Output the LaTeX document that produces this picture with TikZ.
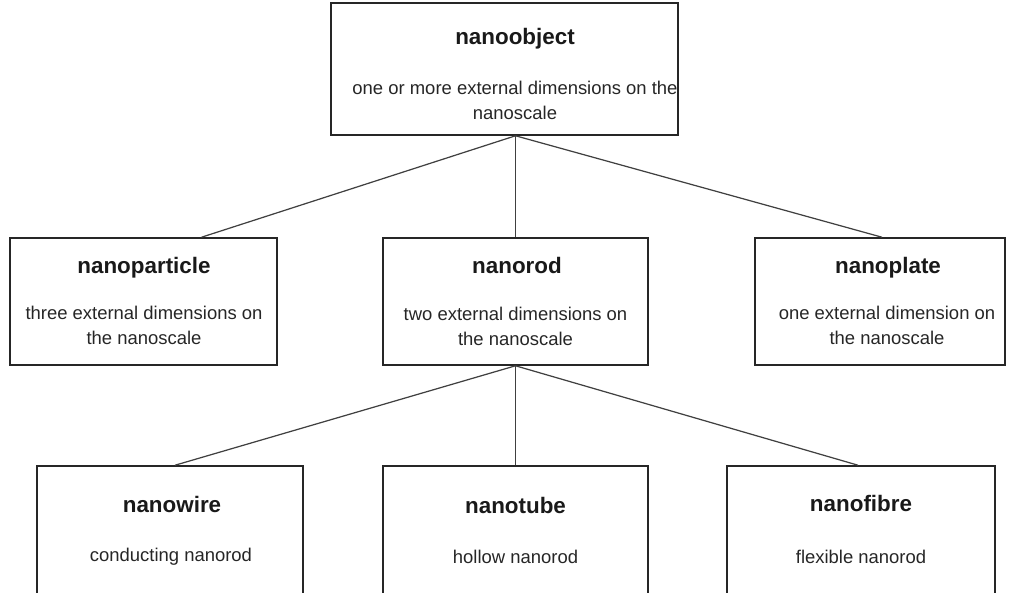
\documentclass[tikz,border=0pt]{standalone}
\usepackage{fontspec}
\setmainfont{Liberation Sans}
\usetikzlibrary{calc}

\begin{document}
\begin{tikzpicture}[x=0.02cm, y=-0.02cm,
    box/.style={draw=black!85, line width=0.9pt, inner sep=0pt},
    title/.style={font=\fontsize{12.75}{15}\selectfont\bfseries, text=black!90, text depth=0pt, inner sep=0pt},
    desc/.style={font=\fontsize{10.5}{14.2}\selectfont, text=black!85, align=center, inner sep=0pt},
    link/.style={draw=black!75, line width=0.7pt}]
    \useasboundingbox (0,0) rectangle (1010,592);
    % boxes
    \node[box, minimum width=6.94cm, minimum height=2.64cm] (obj) at (504.5,69) {};
    \node[box, minimum width=5.34cm, minimum height=2.54cm] (part) at (143.5,301.5) {};
    \node[box, minimum width=5.30cm, minimum height=2.54cm] (rod) at (515.5,301.5) {};
    \node[box, minimum width=5.00cm, minimum height=2.54cm] (plate) at (880,301.5) {};
    \node[box, minimum width=5.32cm, minimum height=2.64cm] (wire) at (170,532) {};
    \node[box, minimum width=5.30cm, minimum height=2.64cm] (tube) at (515.5,532) {};
    \node[box, minimum width=5.36cm, minimum height=2.64cm] (fibre) at (861,532) {};
    % texts
    \node[title] (objT) at (515,36) {nanoobject};
    \node[desc] (objD) at (515,100) {one or more external dimensions on the\\nanoscale};
    \node[title] (partT) at (144,265) {nanoparticle};
    \node[desc] (partD) at (144,325.5) {three external dimensions on\\the nanoscale};
    \node[title] (rodT) at (517,265) {nanorod};
    \node[desc] (rodD) at (515.5,326.5) {two external dimensions on\\the nanoscale};
    \node[title] (plateT) at (888,265) {nanoplate};
    \node[desc] (plateD) at (887,325.5) {one external dimension on\\the nanoscale};
    \node[title] (wireT) at (172,504) {nanowire};
    \node[desc] (wireD) at (171,557) {conducting nanorod};
    \node[title] (tubeT) at (515.5,505) {nanotube};
    \node[desc] (tubeD) at (515.5,557) {hollow nanorod};
    \node[title] (fibreT) at (861,503) {nanofibre};
    \node[desc] (fibreD) at (861,557) {flexible nanorod};
    % connectors
    \coordinate (objJ) at (obj.south -| rod.north);
    \coordinate (rodJ) at (rod.south);
    \draw[link] (objJ) edge ($(part.north)+(58,0)$) edge (rod.north) edge ($(plate.north)+(2,0)$);
    \draw[link] (rodJ) edge ($(wire.north)+(5,0)$) edge (tube.north) edge ($(fibre.north)+(-3,0)$);
\end{tikzpicture}
\end{document}
